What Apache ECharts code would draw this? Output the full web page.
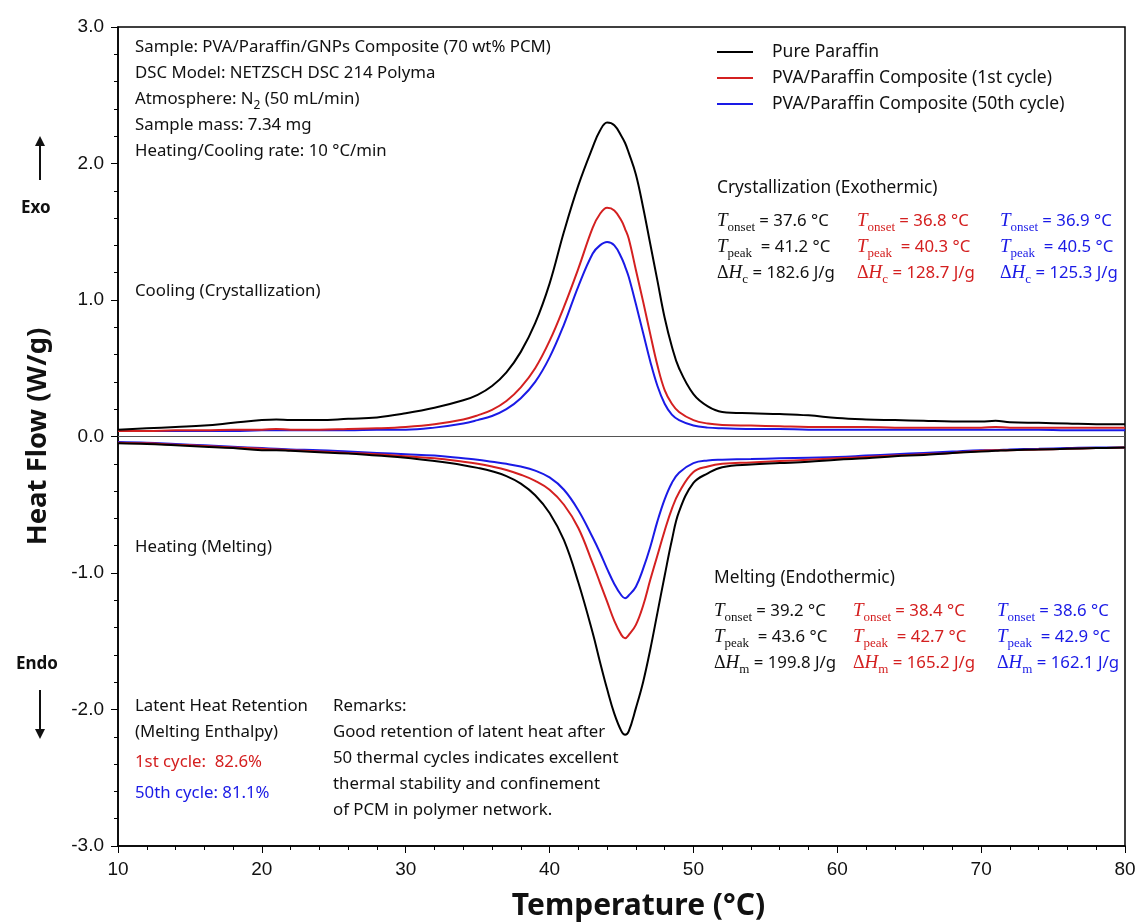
<!DOCTYPE html>
<html>
<head>
<meta charset="utf-8">
<script src="https://cdn.jsdelivr.net/npm/echarts@6/dist/echarts.min.js"></script>
<style>
  html, body { margin: 0; padding: 0; background: #fff; }
  #chart { width: 1139px; height: 922px; }
</style>
</head>
<body>
<div id="chart"></div>
<script>
// temperatures (°C) shared by all curves
const temps = [10, 12, 14, 16, 18, 20, 21, 22, 24, 26, 28, 30, 32, 34, 35, 36, 37, 38, 39, 40, 41, 42, 43, 43.5, 44, 44.5, 45, 45.25, 45.5, 46, 46.5, 47, 47.5, 48, 48.5, 49, 50, 51, 52, 54, 56, 58, 60, 62, 64, 66, 68, 70, 71, 72, 74, 76, 78, 80];

// cooling (exothermic, positive)
const coolPure = [0.05, 0.06, 0.07, 0.08, 0.10, 0.12, 0.125, 0.12, 0.12, 0.13, 0.14, 0.17, 0.21, 0.265, 0.305, 0.37, 0.47, 0.62, 0.83, 1.12, 1.50, 1.84, 2.12, 2.24, 2.30, 2.28, 2.20, 2.15, 2.08, 1.92, 1.68, 1.41, 1.14, 0.87, 0.66, 0.50, 0.31, 0.22, 0.18, 0.17, 0.165, 0.155, 0.135, 0.125, 0.12, 0.115, 0.11, 0.11, 0.115, 0.105, 0.10, 0.095, 0.09, 0.09];
const coolFirst = [0.04, 0.04, 0.045, 0.045, 0.05, 0.05, 0.055, 0.05, 0.05, 0.055, 0.06, 0.07, 0.09, 0.125, 0.155, 0.195, 0.26, 0.36, 0.50, 0.70, 0.95, 1.23, 1.53, 1.63, 1.675, 1.655, 1.58, 1.52, 1.45, 1.22, 0.99, 0.75, 0.52, 0.34, 0.24, 0.18, 0.12, 0.095, 0.085, 0.08, 0.075, 0.07, 0.07, 0.07, 0.065, 0.065, 0.065, 0.065, 0.07, 0.065, 0.065, 0.065, 0.065, 0.065];
const coolFiftieth = [0.04, 0.04, 0.04, 0.04, 0.04, 0.045, 0.045, 0.045, 0.045, 0.045, 0.05, 0.05, 0.065, 0.095, 0.12, 0.15, 0.20, 0.28, 0.40, 0.58, 0.82, 1.10, 1.34, 1.40, 1.425, 1.40, 1.31, 1.245, 1.17, 0.97, 0.76, 0.55, 0.37, 0.24, 0.16, 0.12, 0.08, 0.065, 0.06, 0.055, 0.055, 0.05, 0.05, 0.05, 0.05, 0.05, 0.05, 0.05, 0.05, 0.05, 0.05, 0.045, 0.045, 0.045];

// heating (endothermic, negative)
const heatPure = [-0.05, -0.055, -0.065, -0.075, -0.085, -0.10, -0.10, -0.105, -0.115, -0.125, -0.14, -0.155, -0.18, -0.21, -0.23, -0.255, -0.29, -0.345, -0.43, -0.56, -0.76, -1.07, -1.44, -1.65, -1.85, -2.03, -2.16, -2.185, -2.16, -1.99, -1.80, -1.56, -1.29, -1.02, -0.76, -0.55, -0.34, -0.27, -0.225, -0.205, -0.195, -0.185, -0.17, -0.16, -0.145, -0.135, -0.12, -0.11, -0.105, -0.10, -0.095, -0.09, -0.085, -0.08];
const heatFirst = [-0.045, -0.05, -0.06, -0.07, -0.08, -0.09, -0.095, -0.10, -0.11, -0.12, -0.13, -0.145, -0.16, -0.185, -0.20, -0.22, -0.245, -0.28, -0.325, -0.39, -0.50, -0.67, -0.93, -1.07, -1.21, -1.35, -1.455, -1.478, -1.455, -1.38, -1.24, -1.05, -0.87, -0.69, -0.53, -0.41, -0.26, -0.22, -0.20, -0.19, -0.18, -0.17, -0.16, -0.15, -0.14, -0.13, -0.12, -0.105, -0.10, -0.10, -0.095, -0.09, -0.085, -0.08];
const heatFiftieth = [-0.04, -0.045, -0.055, -0.065, -0.075, -0.085, -0.09, -0.095, -0.10, -0.11, -0.12, -0.13, -0.14, -0.16, -0.17, -0.185, -0.20, -0.22, -0.25, -0.30, -0.39, -0.54, -0.74, -0.85, -0.97, -1.08, -1.165, -1.185, -1.165, -1.10, -0.97, -0.81, -0.62, -0.46, -0.34, -0.265, -0.195, -0.175, -0.17, -0.165, -0.16, -0.155, -0.15, -0.14, -0.13, -0.12, -0.11, -0.10, -0.10, -0.095, -0.09, -0.085, -0.08, -0.08];

const seriesNames = ['Pure Paraffin', 'PVA/Paraffin Composite (1st cycle)', 'PVA/Paraffin Composite (50th cycle)'];
const colors = ['#000000', '#d42020', '#1a1ae6'];

const pairs = arr => temps.map((t, i) => [t, arr[i]]);

const textFont = '"Noto Sans", "Open Sans", sans-serif';
const rich = {
  n: { fontFamily: textFont, fontSize: 16.8, lineHeight: 26 },
  T: { fontFamily: '"Liberation Serif", serif', fontStyle: 'italic', fontSize: 19, lineHeight: 26 },
  d: { fontFamily: '"Liberation Serif", serif', fontSize: 18, lineHeight: 26 },
  s: { fontFamily: '"Liberation Serif", serif', fontSize: 13, lineHeight: 10, verticalAlign: 'bottom' },
  ns: { fontFamily: textFont, fontSize: 12, lineHeight: 10, verticalAlign: 'bottom' }
};

function txt(x, y, text, fill, size) {
  return {
    type: 'text', left: x, top: y, z: 100,
    style: { text: text, fill: fill || '#111', rich: rich, font: (size || 16.8) + 'px ' + textFont, lineHeight: 26 }
  };
}

function statBlock(x, y, fill, onset, peak, dh, sub) {
  return txt(x, y,
    '{T|T}{s|onset}{n| = ' + onset + ' °C}\n' +
    '{T|T}{s|peak}{n|  = ' + peak + ' °C}\n' +
    '{d|Δ}{T|H}{s|' + sub + '}{n| = ' + dh + ' J/g}', fill);
}

const chart = echarts.init(document.getElementById('chart'));

const series = [];
[coolPure, coolFirst, coolFiftieth, heatPure, heatFirst, heatFiftieth].forEach((arr, k) => {
  const i = k % 3;
  series.push({
    name: seriesNames[i], type: 'line', data: pairs(arr), smooth: 0.4, symbol: 'none',
    lineStyle: { color: colors[i], width: 2 }, itemStyle: { color: colors[i] }, z: 5 - i
  });
});
series[0].markLine = {
  silent: true, symbol: 'none', label: { show: false },
  lineStyle: { color: '#555', width: 1.2, type: 'solid' },
  data: [{ yAxis: 0 }]
};

chart.setOption({
  animation: false,
  backgroundColor: '#fff',
  grid: {
    left: 118, right: 14, top: 27, bottom: 76, outerBoundsMode: 'none',
    show: true, borderColor: '#000', borderWidth: 1.5, backgroundColor: 'transparent'
  },
  legend: {
    data: seriesNames, orient: 'vertical', left: 712, top: 36, icon: 'rect', itemWidth: 36, itemHeight: 2, itemGap: 4,
    textStyle: { fontFamily: textFont, fontSize: 17.5, color: '#111', lineHeight: 22, padding: [0, 0, 0, 14] }
  },
  xAxis: {
    type: 'value', min: 10, max: 80, interval: 10,
    name: 'Temperature (°C)', nameLocation: 'middle', nameGap: 45,
    nameTextStyle: { fontFamily: textFont, fontSize: 30, fontWeight: 'bold', color: '#111', padding: [0, 0, 0, 34] },
    axisLine: { onZero: false, lineStyle: { color: '#000', width: 1.5 } },
    axisTick: { show: true, length: 7, lineStyle: { color: '#000' } },
    minorTick: { show: true, splitNumber: 5, length: 4, lineStyle: { color: '#000' } },
    axisLabel: { fontFamily: '"Liberation Sans", Arial, sans-serif', fontSize: 19, color: '#111', margin: 14 },
    splitLine: { show: false }
  },
  yAxis: {
    type: 'value', min: -3, max: 3, interval: 1,
    name: 'Heat Flow (W/g)', nameLocation: 'middle', nameGap: 66,
    nameTextStyle: { fontFamily: textFont, fontSize: 27.5, fontWeight: 'bold', color: '#111' },
    axisLine: { onZero: false, lineStyle: { color: '#000', width: 1.5 } },
    axisTick: { show: true, length: 7, lineStyle: { color: '#000' } },
    minorTick: { show: true, splitNumber: 5, length: 4, lineStyle: { color: '#000' } },
    axisLabel: { fontFamily: '"Liberation Sans", Arial, sans-serif', fontSize: 19, color: '#111', margin: 14, formatter: v => v.toFixed(1) },
    splitLine: { show: false }
  },
  series: series,
  graphic: [
    txt(135, 34, 'Sample: PVA/Paraffin/GNPs Composite (70 wt% PCM)\nDSC Model: NETZSCH DSC 214 Polyma\n{n|Atmosphere: N}{ns|2}{n| (50 mL/min)}\nSample mass: 7.34 mg\nHeating/Cooling rate: 10 °C/min'),
    txt(717, 175, 'Crystallization (Exothermic)', '#111', 17.3),
    statBlock(717, 208, '#111', '37.6', '41.2', '182.6', 'c'),
    statBlock(857, 208, colors[1], '36.8', '40.3', '128.7', 'c'),
    statBlock(1000, 208, colors[2], '36.9', '40.5', '125.3', 'c'),
    txt(714, 565, 'Melting (Endothermic)', '#111', 17.3),
    statBlock(714, 598, '#111', '39.2', '43.6', '199.8', 'm'),
    statBlock(853, 598, colors[1], '38.4', '42.7', '165.2', 'm'),
    statBlock(997, 598, colors[2], '38.6', '42.9', '162.1', 'm'),
    txt(135, 278, 'Cooling (Crystallization)'),
    txt(135, 534, 'Heating (Melting)'),
    txt(135, 693, 'Latent Heat Retention\n(Melting Enthalpy)'),
    txt(135, 749, '1st cycle:  82.6%', colors[1]),
    txt(135, 780, '50th cycle: 81.1%', colors[2]),
    txt(333, 693, 'Remarks:\nGood retention of latent heat after\n50 thermal cycles indicates excellent\nthermal stability and confinement\nof PCM in polymer network.'),
    { type: 'text', left: 21, top: 200, style: { text: 'Exo', fill: '#111', font: 'bold 17px ' + textFont } },
    { type: 'line', shape: { x1: 40, y1: 180, x2: 40, y2: 142 }, style: { stroke: '#111', lineWidth: 2 } },
    { type: 'polygon', shape: { points: [[40, 136], [35, 146], [45, 146]] }, style: { fill: '#111' } },
    { type: 'text', left: 16, top: 656, style: { text: 'Endo', fill: '#111', font: 'bold 17px ' + textFont } },
    { type: 'line', shape: { x1: 40, y1: 690, x2: 40, y2: 732 }, style: { stroke: '#111', lineWidth: 2 } },
    { type: 'polygon', shape: { points: [[40, 739], [35, 729], [45, 729]] }, style: { fill: '#111' } }
  ]
});
</script>
</body>
</html>
